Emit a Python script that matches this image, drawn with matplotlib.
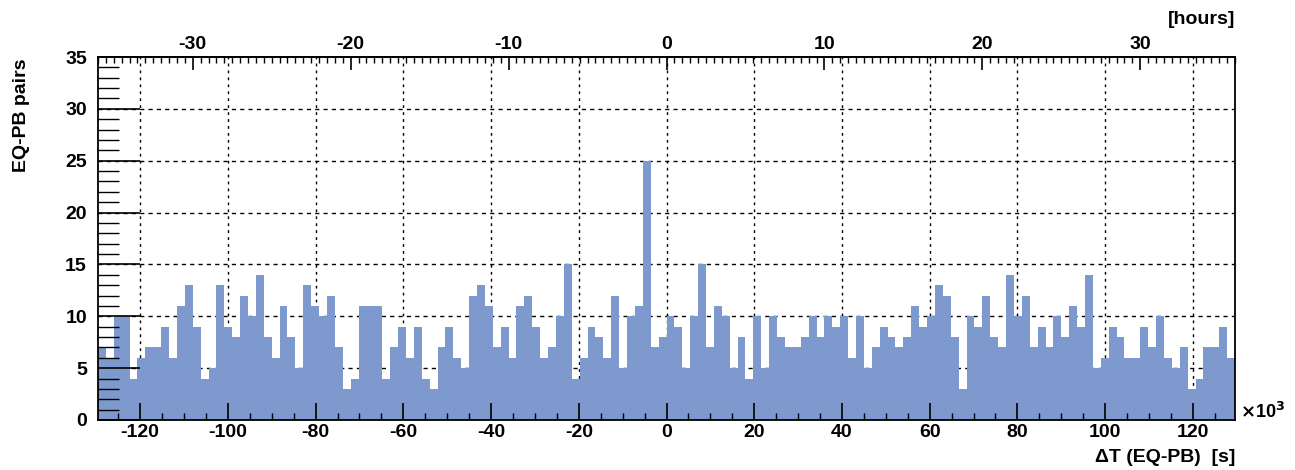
import numpy as np
import matplotlib.pyplot as plt
from matplotlib.ticker import MultipleLocator, FixedLocator

# EQ-PB pairs per half-hour bin (1.8 x 10^3 s), from -36 h to +36 h
counts = [
    7, 6, 10, 10, 4, 6, 7, 7, 9, 6, 11, 13, 9, 4, 5, 13, 9, 8, 12, 10,
    14, 8, 6, 11, 8, 5, 13, 11, 10,
    12, 7, 3, 4, 11, 11, 11, 4, 7, 9, 6, 9, 4, 3, 7, 9, 6, 5, 12, 13,
    11, 7, 9, 6, 11, 12, 9, 6, 7,
    10, 15, 4, 6, 9, 8, 6, 12, 5, 10, 11, 25, 7, 8, 10, 9, 5, 10, 15, 7,
    11, 10, 5, 8, 4, 10, 5, 10, 8,
    7, 7, 8, 10, 8, 10, 9, 10, 6, 10, 5, 7, 9, 8, 7, 8, 11, 9, 10, 13,
    12, 8, 3, 10, 9, 12, 8, 7, 14,
    10, 12, 7, 9, 7, 10, 8, 11, 9, 14, 5, 6, 9, 8, 6, 6, 9, 7, 10, 6,
    5, 7, 3, 4, 7, 7, 9, 6,
]
bin_width = 1.8  # 10^3 s
sec_per_hour = 3.6  # 10^3 s
x_ticks = [-120, -100, -80, -60, -40, -20, 0, 20, 40, 60, 80, 100, 120]
hour_ticks = [-30, -20, -10, 0, 10, 20, 30]
y_ticks = [0, 5, 10, 15, 20, 25, 30, 35]

n_bins = len(counts)
edges = (np.arange(n_bins + 1) - n_bins / 2) * bin_width

plt.rcParams['font.family'] = ['Liberation Sans', 'DejaVu Sans']
plt.rcParams['font.weight'] = 'bold'
plt.rcParams['axes.unicode_minus'] = False

W, H = 1295, 470
fig = plt.figure(figsize=(W / 100, H / 100), dpi=100)
ax = fig.add_axes([98 / W, 50 / H, (1235 - 98) / W, 363 / H])

ax.stairs(counts, edges, fill=True, color='#7d99cd', lw=0, zorder=1)

ax.set_xlim(edges[0], edges[-1])
ax.set_ylim(0, 35)
ax.xaxis.set_major_locator(FixedLocator(x_ticks))
ax.xaxis.set_minor_locator(MultipleLocator(5))
ax.yaxis.set_major_locator(FixedLocator(y_ticks))
ax.yaxis.set_minor_locator(MultipleLocator(1))

# dotted grid behind the histogram
for xv in x_ticks:
    ax.axvline(xv, color='black', lw=1.0, ls=(0, (2, 3)), zorder=0.2)
for yv in y_ticks[1:-1]:
    ax.axhline(yv, color='black', lw=1.0, ls=(0, (3, 3)), zorder=0.2)

ax.tick_params(axis='both', which='both', direction='in', colors='black',
               labelsize=14)
ax.tick_params(axis='x', which='major', length=12, width=1.2, pad=3)
ax.tick_params(axis='x', which='minor', length=5, width=1.0)
ax.tick_params(axis='y', which='major', length=30, width=1.2, pad=8)
ax.tick_params(axis='y', which='minor', length=15, width=1.0)
for s in ax.spines.values():
    s.set_linewidth(1.3)
    s.set_color('black')

# upper axis in hours
top = ax.secondary_xaxis('top', functions=(lambda x: x / sec_per_hour,
                                           lambda h: h * sec_per_hour))
top.xaxis.set_major_locator(FixedLocator(hour_ticks))
top.xaxis.set_minor_locator(MultipleLocator(0.5))
top.tick_params(which='both', direction='in', labelsize=14, pad=3)
top.tick_params(which='major', length=9, width=1.2)
top.tick_params(which='minor', length=4, width=1.0)
top.spines['top'].set_linewidth(1.3)

fig.text(22 / W, 1 - 58 / H, 'EQ-PB pairs', rotation=90, ha='center',
         va='top', fontsize=14)
fig.text(1235 / W, 1 - 20 / H, '[hours]', ha='right', va='center',
         fontsize=14)
fig.text(1235 / W, 1 - 458 / H, '\u0394T (EQ-PB)  [s]', ha='right',
         va='center', fontsize=14)
fig.text(1240 / W, 1 - 412 / H, r'$\times$10$^{3}$', ha='left',
         va='center', fontsize=13)

fig.savefig('out.png', dpi=100)
